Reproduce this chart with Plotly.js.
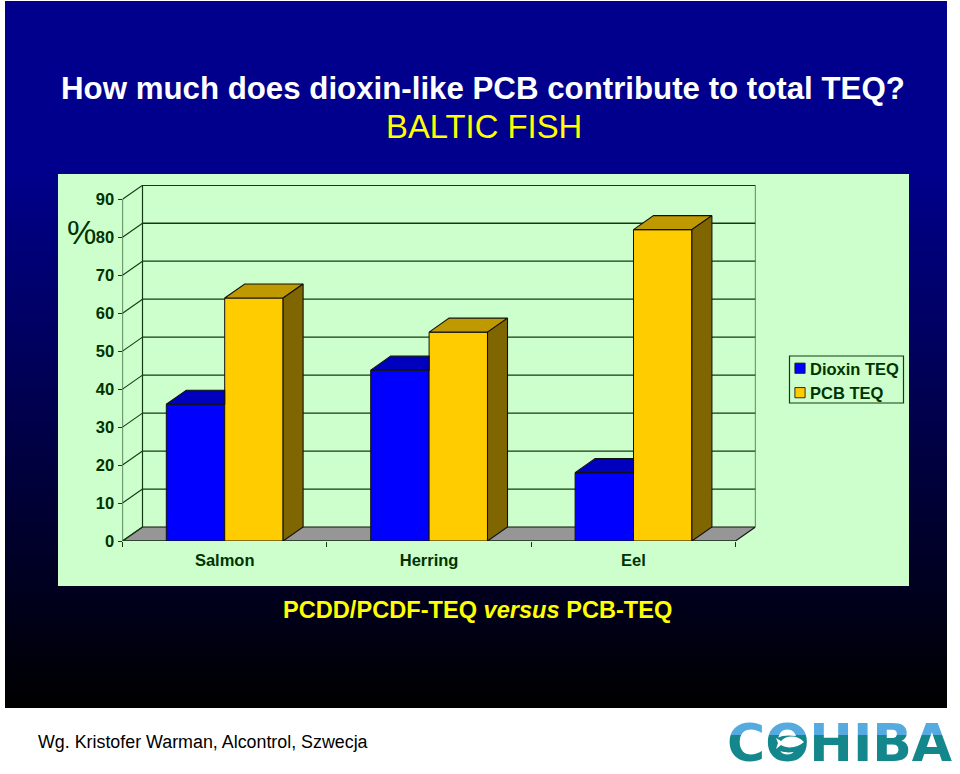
<!DOCTYPE html>
<html>
<head>
<meta charset="utf-8">
<script src="https://cdn.plot.ly/plotly-3.0.1.min.js"></script>
<style>
html,body{margin:0;padding:0;background:#fff;width:960px;height:774px;overflow:hidden}
#slide{position:absolute;left:5px;top:1px;width:942px;height:707px;background:linear-gradient(to bottom,#00008C 0%,#00008C 24%,#000000 100%)}
#chart{position:absolute;left:0;top:0;width:960px;height:774px}
</style>
</head>
<body>
<div id="slide"></div>
<div id="chart"></div>
<script>
const categories = ["Salmon", "Herring", "Eel"];
const dioxinTEQ = [36, 45, 18];
const pcbTEQ = [64, 55, 82];
const yTicks = [0, 10, 20, 30, 40, 50, 60, 70, 80, 90];
const seriesNames = ["Dioxin TEQ", "PCB TEQ"];

const W = 960, H = 774;
const FONT = '"Liberation Sans", Arial, sans-serif';
const DARK = '#003300';
const GRID = '#143a14';
const TEAL = '#14878C';
const px = v => v / W, py = v => 1 - v / H;

// plot area: front-left corner to the back-right corner of the 3-D box
const plotLeft = 122.5, plotRight = 755.5, plotBottom = 541, plotTop = 185;
const unitX = 204.4, unitY = 3.797;
const depthX = 20 / unitX, depthY = 14 / unitY;
const xMax = (plotRight - plotLeft) / unitX, yMax = (plotBottom - plotTop) / unitY;
const barW = 1 / 3.5, yTop = yTicks[yTicks.length - 1];
const n = categories.length;
const centers = categories.map((_, i) => i + 0.5);

const line = (x, y, w) => ({type:'scatter', mode:'lines', x, y, xaxis:'x', yaxis:'y',
  line:{color:GRID, width:w || 1.3}, cliponaxis:false, showlegend:false, hoverinfo:'skip'});
const poly = (x, y, fill) => ({type:'scatter', mode:'lines', x, y, xaxis:'x2', yaxis:'y2', fill:'toself',
  fillcolor:fill, line:{color:'#111', width:1.1}, cliponaxis:false, showlegend:false, hoverinfo:'skip'});

const traces = [];
// floor
traces.push({type:'scatter', mode:'lines', xaxis:'x', yaxis:'y', fill:'toself', fillcolor:'#969696',
  x:[0, depthX, xMax, xMax - depthX, 0], y:[0, depthY, depthY, 0, 0],
  line:{color:'#111', width:1.1}, cliponaxis:false, showlegend:false, hoverinfo:'skip'});
// back wall grid + side wall diagonals
yTicks.forEach(v => {
  if (v > 0) traces.push(line([depthX, xMax], [v + depthY, v + depthY]));
  traces.push(line([0, depthX], [v, v + depthY], 1.1));
});
traces.push(line([0, 0], [0, yTop], 1.2));
traces.push(line([depthX, depthX], [depthY, yTop + depthY], 1.2));
traces.push(line([xMax, xMax], [depthY, yTop + depthY], 1.2));
traces.push(line([0, n], [0, 0], 1.2));

// front faces
traces.push({type:'bar', name:seriesNames[0], x:centers, y:dioxinTEQ, xaxis:'x2', yaxis:'y2',
  marker:{color:'#0000FF', line:{color:'#111', width:1}}, hoverinfo:'skip'});
traces.push({type:'bar', name:seriesNames[1], x:centers, y:pcbTEQ, xaxis:'x2', yaxis:'y2',
  marker:{color:'#FFCC00', line:{color:'#111', width:1}}, hoverinfo:'skip'});

// tops and sides
centers.forEach((c, i) => {
  const a = c - barW, b = c, d = c + barW;
  const v1 = dioxinTEQ[i], v2 = pcbTEQ[i];
  traces.push(poly([a, a + depthX, b, b, a], [v1, v1 + depthY, v1 + depthY, v1, v1], '#0000BF'));
  traces.push(poly([b, b + depthX, d + depthX, d, b], [v2, v2 + depthY, v2 + depthY, v2, v2], '#BF9900'));
  traces.push(poly([d, d + depthX, d + depthX, d, d], [0, depthY, v2 + depthY, v2, 0], '#806600'));
});

const ann = (text, x, y, size, color, weight, family) => ({
  text, xref:'paper', yref:'paper', x:px(x), y:py(y), xanchor:'center', yanchor:'middle', showarrow:false,
  font:{family:family || FONT, size, color, weight:weight || 400}
});

const annotations = [
  ann('How much does dioxin-like PCB contribute to total TEQ?', 483, 88, 31.25, '#FFFFFF', 700),
  ann('BALTIC FISH', 484.5, 126, 32.8, '#FFFF00'),
  ann('%', 81.5, 232, 33, DARK),
  ann('PCDD/PCDF-TEQ <i>versus</i> PCB-TEQ', 477.5, 610, 23.6, '#FFFF00', 700),
  ann('Wg. Kristofer Warman, Alcontrol, Szwecja', 202.5, 742, 17.85, '#000000'),
  ann('COHIBA', 839, 743, 52, TEAL, 700, '"DejaVu Sans", sans-serif')
];

const layout = {
  width:W, height:H, margin:{l:0, r:0, t:0, b:0},
  paper_bgcolor:'rgba(0,0,0,0)', plot_bgcolor:'rgba(0,0,0,0)',
  barmode:'group', bargap:1 - 2 * barW, bargroupgap:0,
  font:{family:FONT, color:DARK},
  xaxis:{domain:[px(plotLeft), px(plotRight)], range:[0, xMax], type:'linear', anchor:'y', showgrid:false, zeroline:false, showline:false,
    tickmode:'array', tickvals:centers, ticktext:categories, ticks:'outside', ticklen:4, tickcolor:'rgba(0,0,0,0)',
    tickfont:{family:FONT, size:16.5, color:DARK, weight:700},
    minor:{tickmode:'array', tickvals:[0, 1, 2, 3], ticks:'outside', ticklen:5, tickcolor:GRID, tickwidth:1.2, showgrid:false}},
  yaxis:{domain:[py(plotBottom), py(plotTop)], range:[0, yMax], type:'linear', anchor:'x', showgrid:false, zeroline:false, showline:false,
    tickmode:'array', tickvals:yTicks, ticks:'outside', ticklen:4, tickcolor:GRID, tickwidth:1.2,
    tickfont:{family:FONT, size:16.5, color:DARK, weight:700}},
  xaxis2:{overlaying:'x', range:[0, xMax], type:'linear', visible:false, anchor:'y2'},
  yaxis2:{overlaying:'y', range:[0, yMax], type:'linear', visible:false, anchor:'x2'},
  showlegend:true,
  legend:{x:px(770), y:py(351), xanchor:'left', yanchor:'top', bgcolor:'rgba(0,0,0,0)', borderwidth:0,
    traceorder:'normal', itemclick:false, itemdoubleclick:false, tracegroupgap:0,
    font:{family:FONT, size:16.5, color:DARK, weight:700}},
  shapes:[
    {type:'rect', xref:'paper', yref:'paper', x0:px(58), x1:px(909), y0:py(174), y1:py(586), fillcolor:'#CCFFCC', line:{width:0}, layer:'below'},
    {type:'rect', xref:'paper', yref:'paper', x0:px(789.5), x1:px(903.5), y0:py(356), y1:py(403), fillcolor:'rgba(0,0,0,0)', line:{color:GRID, width:1.2}, layer:'below'}
  ],
  annotations
};

Plotly.newPlot('chart', traces, layout, {displayModeBar:false, responsive:false}).then(gd => {
  // legend swatches sit closer to their labels than the library's default
  gd.querySelectorAll('.legend .legendpoints').forEach(g => {
    g.setAttribute('transform', 'translate(13,0) scale(0.85)');
  });
  // logo: two-tone lettering and the fish inside the O
  const NS = 'http://www.w3.org/2000/svg';
  const svgs = gd.querySelectorAll('svg.main-svg');
  const topSvg = svgs[svgs.length - 1];
  const defs = document.createElementNS(NS, 'defs');
  defs.innerHTML = '<linearGradient id="logoFill" x1="0" y1="0" x2="0" y2="1">' +
    '<stop offset="0.36" stop-color="#55ABDF"/><stop offset="0.36" stop-color="' + TEAL + '"/></linearGradient>';
  topSvg.appendChild(defs);
  gd.querySelectorAll('.annotation-text').forEach(t => {
    if (t.textContent === 'COHIBA') t.style.fill = 'url(#logoFill)';
  });
  const logo = document.createElementNS(NS, 'g');
  logo.innerHTML = '<ellipse cx="789" cy="744" rx="17" ry="8.5" fill="' + TEAL + '"/>' +
    '<path d="M776,738 L781,741 C787,735 797,735 804,742 C798,748 787,749 781,745 L776,749 L778,743 Z" fill="#fff"/>';
  topSvg.appendChild(logo);
});
</script>
</body>
</html>
